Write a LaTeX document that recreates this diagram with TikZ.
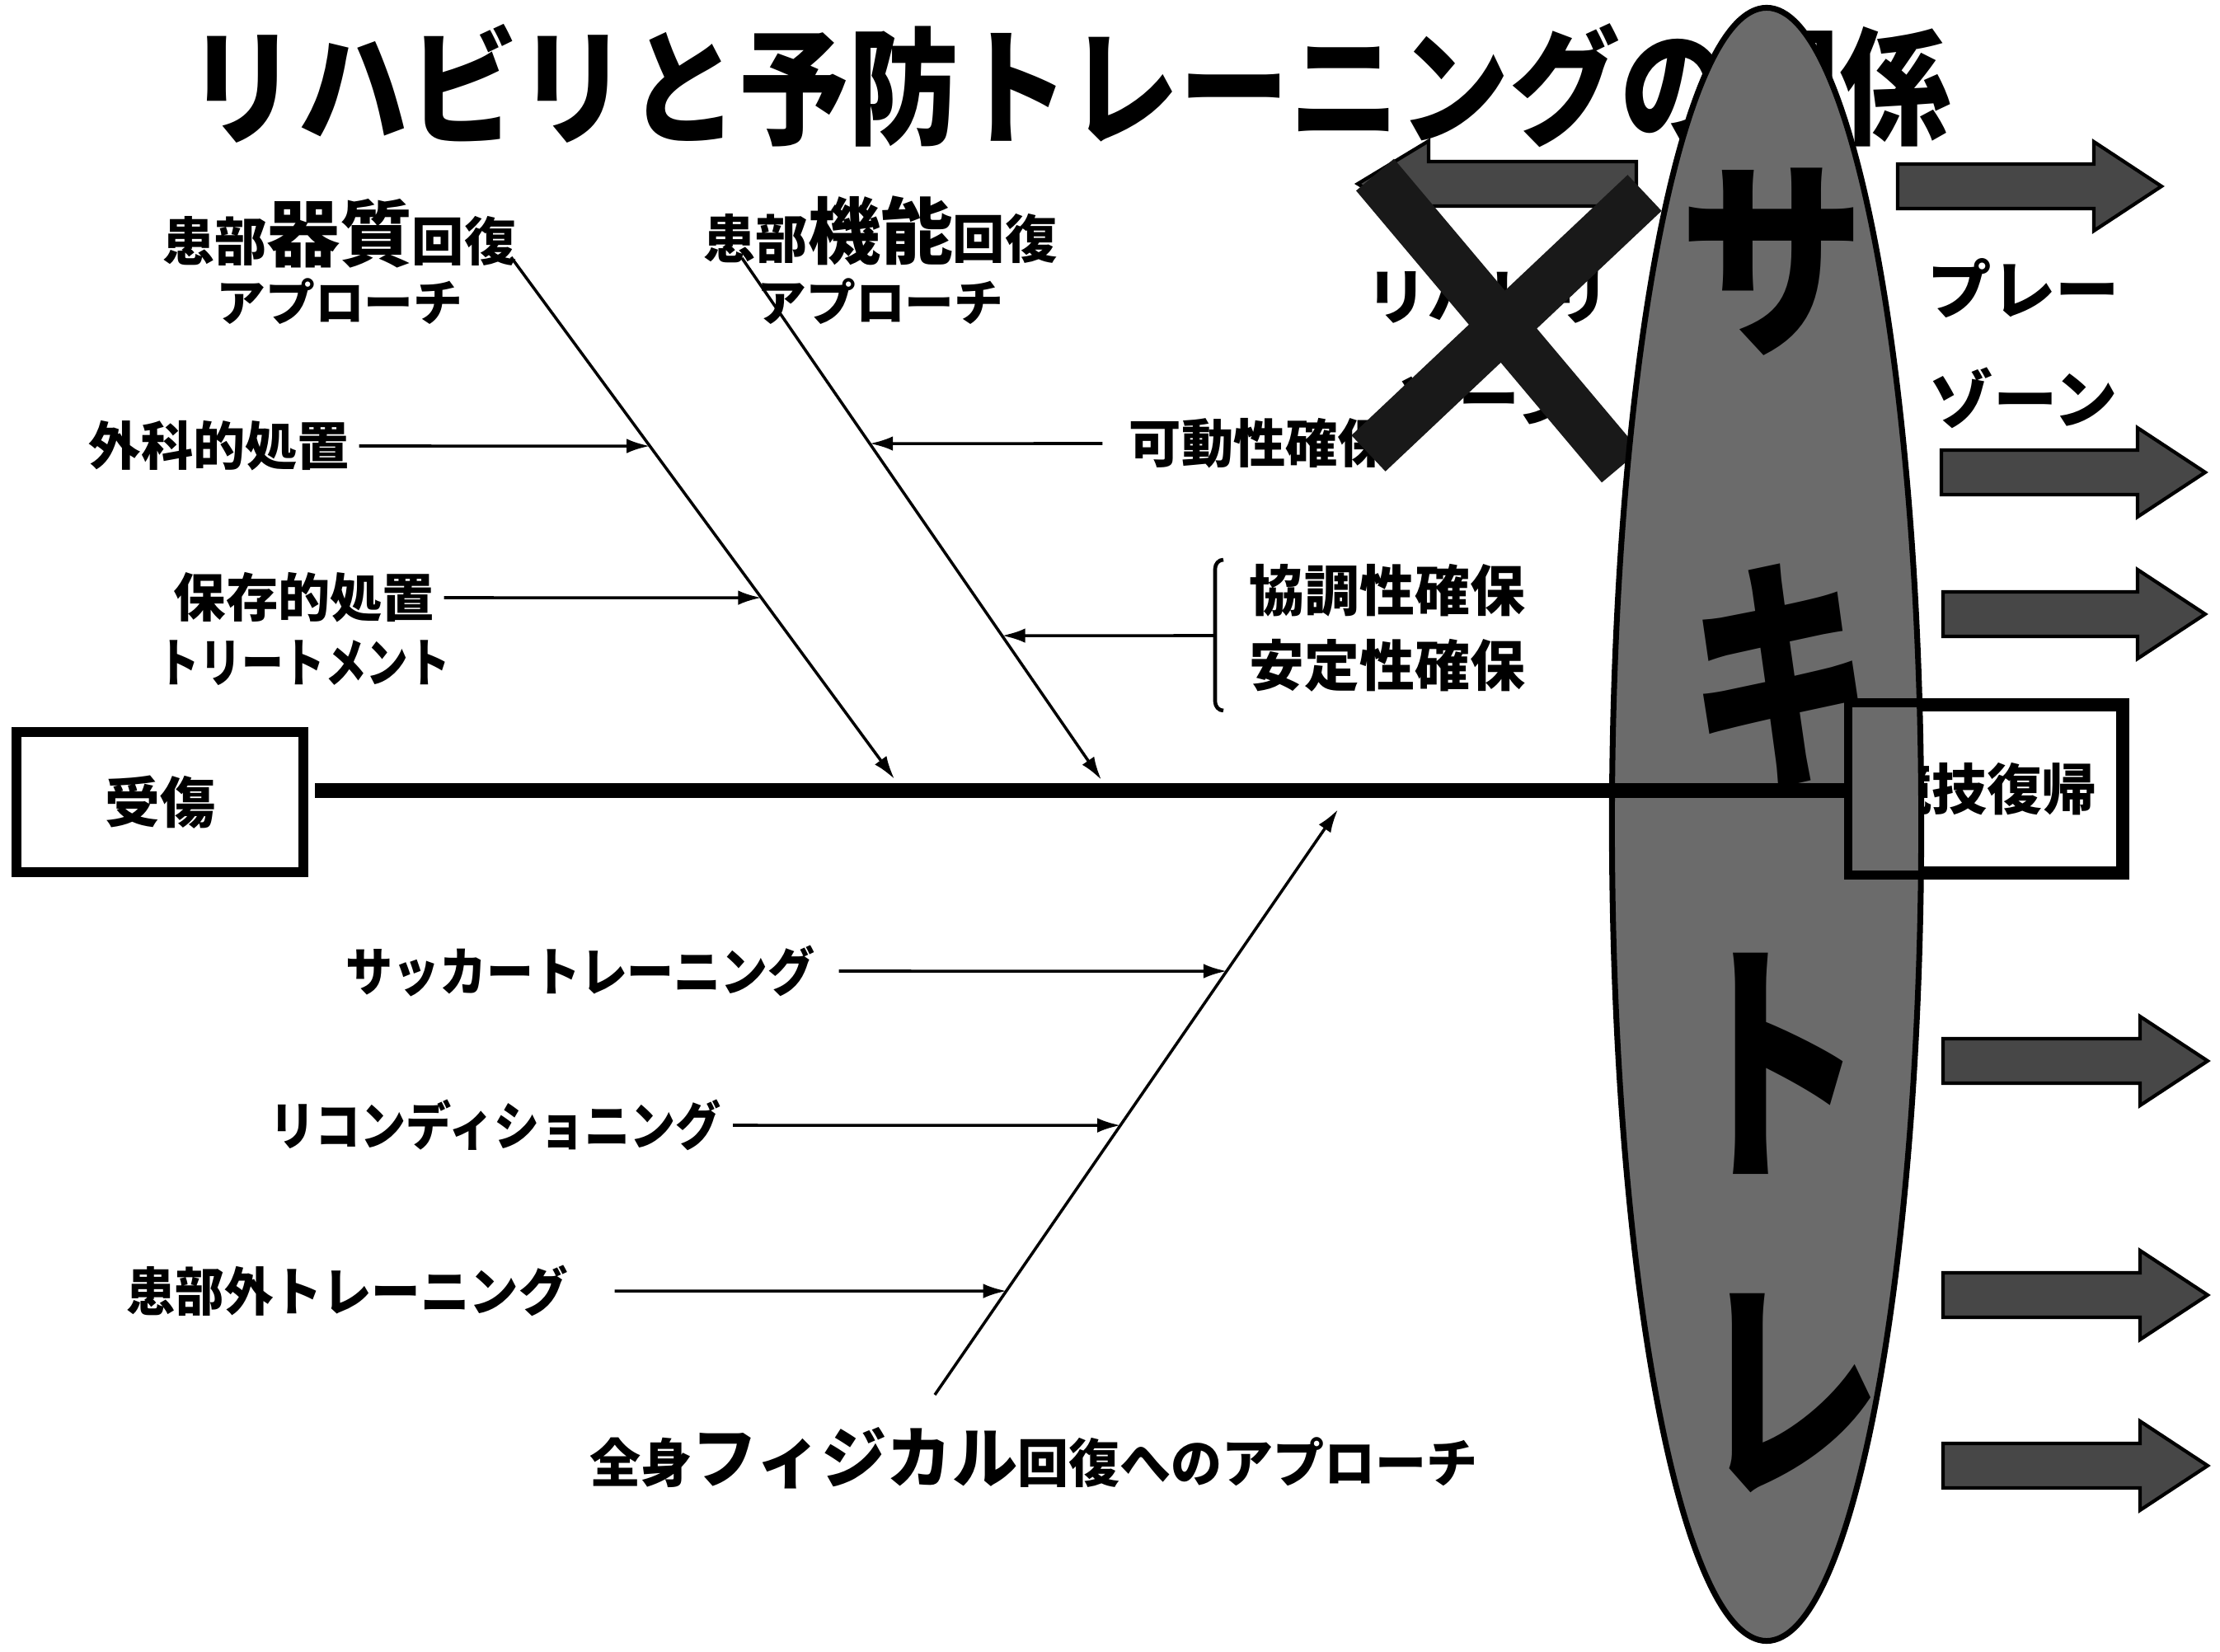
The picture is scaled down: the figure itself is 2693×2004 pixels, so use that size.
\documentclass[tikz,border=0pt]{standalone}
\usepackage{graphicx}
\usepackage{fontspec}
\newfontfamily\jp{Noto Sans CJK JP}
\newcommand{\msize}[1]{\fontsize{#1}{#1}\selectfont}
\usetikzlibrary{shapes.geometric,arrows.meta}

\begin{document}
\begin{tikzpicture}[
    x=0.01cm, y=-0.01cm,
    moji/.style={font=\jp\bfseries\msize{18}, inner sep=1pt},
    hako/.style={draw=black, fill=white, inner sep=0pt, font=\jp\bfseries\msize{19}},
    sebone/.style={line width=5pt},
    ya/.style={line width=1pt, -{Latex[length=8pt,width=5pt]}},
    futoya/.style={draw=black, fill=black!72, line width=1.2pt},
    zone/.style={font=\jp\bfseries\msize{21}, inner sep=0pt},
    oomoji/.style={font=\jp\bfseries\msize{64}, inner sep=0pt},
    batsu/.style={line width=0.6cm, draw=black!90}
]
    \useasboundingbox (0,0) rectangle (2693,2004);
    \fill[white] (0,0) rectangle (2693,2004);

    % --- TITLE ---
    \node[font=\jp\bfseries\msize{38}, inner sep=0pt] (title) at (1297,104)
        {\scalebox{1}[1.15]{リハビリと予防トレーニングの関係}};

    % --- UPPER LABELS ---
    \node[moji] (kishitsu) at (412,283) {患部{\msize{25}器質}回復};
    \node[moji, font=\jp\bfseries\msize{17}] (appro1) at (412,366) {アプローチ};
    \node[moji] (kino) at (1068,280) {患部{\msize{25}機能}回復};
    \node[moji, font=\jp\bfseries\msize{17}] (appro2) at (1068,366) {アプローチ};
    \node[moji] (geka) at (266,541) {外科的処置};
    \node[moji] (hozon) at (369,725) {保存的処置};
    \node[moji] (treat) at (369,804) {\scalebox{0.8}[1]{トリートメント}};
    \node[moji] (kado) at (1528,538) {可動性確保};
    \node[moji, font=\jp\bfseries\msize{19}] (kyocho) at (1683,716) {協調性確保};
    \node[moji, font=\jp\bfseries\msize{19}] (antei) at (1683,807) {安定性確保};

    % --- LOWER LABELS ---
    \node[moji] (socc) at (704,1178) {\scalebox{0.9}[1]{サッカートレーニング}};
    \node[moji] (recon) at (601,1365) {\scalebox{0.87}[1]{リコンディショニング}};
    \node[moji] (kanbu) at (421,1566) {\scalebox{0.94}[1]{患部外トレーニング}};
    \node[moji] (zenshin) at (1254,1769)
        {\scalebox{0.98}[1]{全身{\msize{23}フィジカル}回復へのアプローチ}};

    % --- BOXES ---
    \node[hako, line width=3.5pt, minimum width=3.48cm, minimum height=1.7cm] (jusho) at (194,973) {受傷};
    \node[hako, line width=3pt, minimum width=3.25cm, minimum height=1.98cm] (kyogi) at (2410,957) {競技復帰};

    % --- BLOCK ARROWS ---
    \foreach \yc/\xl/\xt in {226/2302/2622, 573/2355/2675, 745/2357/2675,
                             1287/2357/2678, 1571/2357/2678, 1778/2357/2678}
        \filldraw[futoya] (\xl,\yc-27) -- (\xt-82,\yc-27) -- (\xt-82,\yc-54) -- (\xt,\yc)
            -- (\xt-82,\yc+54) -- (\xt-82,\yc+27) -- (\xl,\yc+27) -- cycle;
    \filldraw[futoya] (1985,196) -- (1733,196) -- (1733,171) -- (1647,223)
        -- (1733,275) -- (1733,250) -- (1985,250) -- cycle;

    % --- ZONES ---
    \node[zone] (riha1) at (1805,358) {リハビリ};
    \node[zone] (riha2) at (1805,482) {ゾーン};
    \node[zone, font=\jp\bfseries\msize{22}] (play1) at (2455,350) {プレー};
    \node[zone, font=\jp\bfseries\msize{22}] (play2) at (2455,483) {ゾーン};
    \draw[batsu] (1668,212) -- (1966,566);
    \draw[batsu] (1995,234) -- (1660,550);

    % --- ELLIPSE ---
    \node[ellipse, draw=black, fill=black!58, line width=2pt, minimum width=3.75cm,
          minimum height=19.8cm, inner sep=0pt] (saki) at (2143,1000) {};
    \node[oomoji] (ks1) at (2150,318) {\scalebox{1}[1.15]{サ}};
    \node[oomoji] (ks2) at (2160,820) {\scalebox{1}[1.35]{キ}};
    \node[oomoji] (ks3) at (2150,1290) {\scalebox{1}[1.4]{ト}};
    \node[oomoji] (ks4) at (2170,1690) {\scalebox{1}[1.3]{レ}};
    \draw[line width=3pt] (kyogi.south west) rectangle (kyogi.north east);

    % --- SPINE AND BONES ---
    \coordinate (sp0) at (382,959);
    \draw[sebone] (sp0) -- (sp0 -| kyogi.west);
    \coordinate (b1s) at (620,312);
    \coordinate (b1e) at (1085,945);
    \coordinate (b2s) at (900,313);
    \coordinate (b2e) at (1336,946);
    \coordinate (b3s) at (1134,1692);
    \coordinate (b3e) at (1623,982);
    \draw[ya] (b1s) -- (b1e);
    \draw[ya] (b2s) -- (b2e);
    \draw[ya] (b3s) -- (b3e);

    % --- SMALL ARROWS ---
    \draw[ya, shorten <=2pt] (geka.east) -- (intersection of b1s--b1e and geka.east--geka.west);
    \draw[ya, shorten <=2pt] (hozon.east) -- (intersection of b1s--b1e and hozon.east--hozon.west);
    \draw[ya, shorten <=8pt] (kado.west) -- (intersection of b2s--b2e and kado.west--kado.east);
    \draw[line width=1.3pt] (1484,679) to[out=180,in=90] (1474,690) -- (1474,851)
        to[out=-90,in=180] (1484,862);
    \coordinate (kakko) at (1474,771);
    \coordinate (kakkol) at (1100,771);
    \draw[ya] (kakko) -- (intersection of b2s--b2e and kakko--kakkol);
    \draw[ya, shorten <=7pt] (socc.east) -- (intersection of b3s--b3e and socc.east--socc.west);
    \draw[ya, shorten <=3pt] (recon.east) -- (intersection of b3s--b3e and recon.east--recon.west);
    \draw[ya, shorten <=15pt] (kanbu.east) -- (intersection of b3s--b3e and kanbu.east--kanbu.west);
\end{tikzpicture}
\end{document}
